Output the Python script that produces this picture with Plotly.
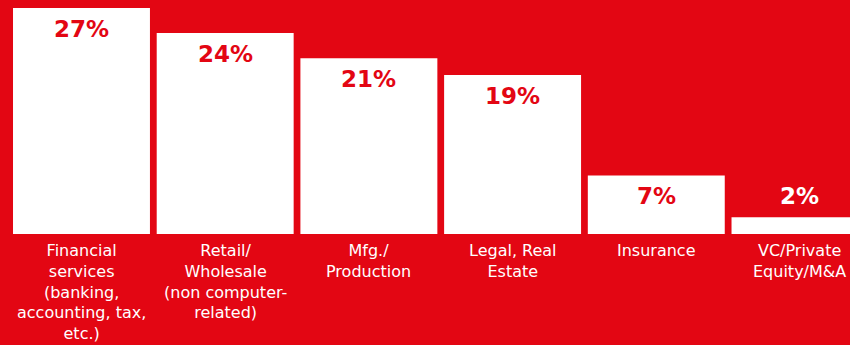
import plotly.graph_objects as go

categories = [
    "Financial<br>services<br>(banking,<br>accounting, tax,<br>etc.)",
    "Retail/<br>Wholesale<br>(non computer-<br>related)",
    "Mfg./<br>Production",
    "Legal, Real<br>Estate",
    "Insurance",
    "VC/Private<br>Equity/M&A",
]
values = [27, 24, 21, 19, 7, 2]
value_labels = ["27%", "24%", "21%", "19%", "7%", "2%"]

RED = "#E30613"
FONT = "DejaVu Sans"

x = list(range(len(values)))
fig = go.Figure()
fig.add_trace(go.Bar(x=x, y=values, marker=dict(color="white", line=dict(width=0)),
                     hoverinfo="skip"))

annotations = []
for i, (v, t) in enumerate(zip(values, value_labels)):
    inside = v >= 5
    annotations.append(dict(
        x=i, y=v, xref="x", yref="y", text="<b>" + t + "</b>", showarrow=False,
        yanchor="top" if inside else "bottom", yshift=-6 if inside else 6,
        font=dict(family=FONT, size=23, color=RED if inside else "white"),
    ))
for i, c in enumerate(categories):
    annotations.append(dict(
        x=i, y=0, xref="x", yref="paper", text=c, showarrow=False,
        yanchor="top", yshift=-5, align="center",
        font=dict(family=FONT, size=16, color="white"),
    ))

fig.update_layout(
    width=850, height=345,
    margin=dict(l=0, r=0, t=0, b=111),
    paper_bgcolor=RED, plot_bgcolor=RED,
    bargap=0.047,
    showlegend=False,
    xaxis=dict(range=[-0.567, 5.348], showticklabels=False, showgrid=False,
               zeroline=False, visible=False),
    yaxis=dict(range=[0, 234 / 8.37], showticklabels=False, showgrid=False,
               zeroline=False, visible=False),
    annotations=annotations,
)
fig.write_html("out.html")
